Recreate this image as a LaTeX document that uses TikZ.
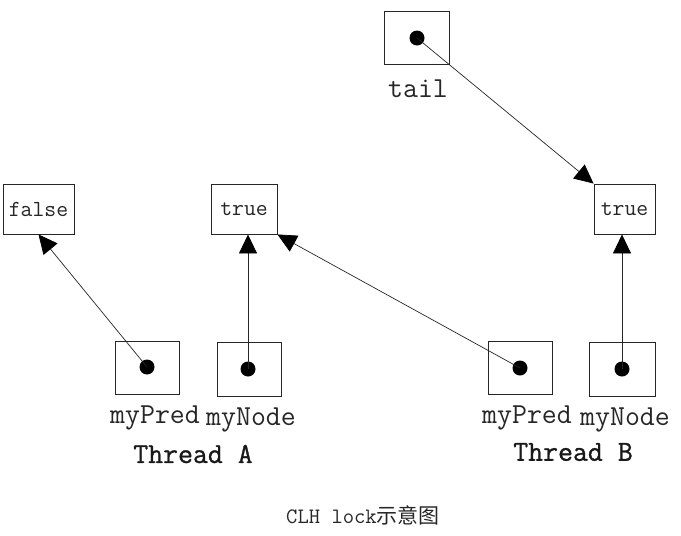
\documentclass[tikz,border=0pt]{standalone}
\usepackage{fontspec}
\newfontfamily\cjk{Noto Sans CJK SC}
\newfontfamily\thrfont{Latin Modern Mono}[FakeBold=1.0]
\usetikzlibrary{arrows.meta}
\begin{document}
\begin{tikzpicture}[x=1pt,y=-1pt,
  box/.style={draw=black!85,line width=0.9pt,inner sep=0pt},
  dotnode/.style={circle,fill=black,inner sep=0pt,minimum size=15pt},
  boxtext/.style={font=\fontsize{23}{23}\selectfont\ttfamily,text=black!85},
  lbl/.style={font=\fontsize{29}{29}\selectfont\ttfamily,text=black!85,inner sep=0pt},
  thr/.style={font=\fontsize{29}{29}\selectfont\thrfont,text=black!90,inner sep=0pt},
  arr/.style={draw=black!85,line width=0.7pt,-{Triangle[length=19pt,width=18pt,color=black]}}]
\useasboundingbox (0,0) rectangle (681,536);
% tail
\node[box,minimum width=65pt,minimum height=53pt] (tailbox) at (416.5,37.5) {};
\node[dotnode] (taildot) at (417,38) {};
\node[lbl] (taillbl) at (418,89) {tail};
% value boxes
\node[box,boxtext,minimum width=71pt,minimum height=50pt] (false) at (38.5,209) {false};
\node[box,boxtext,minimum width=66pt,minimum height=50pt] (trueA) at (244,209) {true};
\node[box,boxtext,minimum width=61pt,minimum height=50pt] (trueB) at (624.5,209) {true};
% thread A
\node[box,minimum width=64pt,minimum height=53pt] (predA) at (147,367.5) {};
\node[dotnode] (predAdot) at (147,367) {};
\node[box,minimum width=64pt,minimum height=54pt] (nodeA) at (249,369) {};
\node[dotnode] (nodeAdot) at (248,369) {};
\node[lbl] (predAlbl) at (155,418) {myPred};
\node[lbl] (nodeAlbl) at (251,420) {myNode};
\node[thr] (thrA) at (193,454) {Thread A};
% thread B
\node[box,minimum width=64pt,minimum height=53pt] (predB) at (520,367.5) {};
\node[dotnode] (predBdot) at (520,368) {};
\node[box,minimum width=66pt,minimum height=54pt] (nodeB) at (622,369) {};
\node[dotnode] (nodeBdot) at (622,369) {};
\node[lbl] (predBlbl) at (527,418) {myPred};
\node[lbl] (nodeBlbl) at (625,420) {myNode};
\node[thr] (thrB) at (573,452) {Thread B};
% caption
\node[inner sep=0pt,text=black!85] (cap) at (363,515) {\fontsize{22}{22}\selectfont\ttfamily CLH lock\cjk\fontsize{21}{21}\selectfont 示意图};
% arrows
\draw[arr] (taildot.center) -- (trueB.north west);
\draw[arr] (predAdot.center) -- (false.south);
\draw[arr] (nodeAdot.center) -- (nodeAdot.center |- trueA.south);
\draw[arr] (predBdot.center) -- (trueA.south east);
\draw[arr] (nodeBdot.center) -- (nodeBdot.center |- trueB.south);
\end{tikzpicture}
\end{document}
